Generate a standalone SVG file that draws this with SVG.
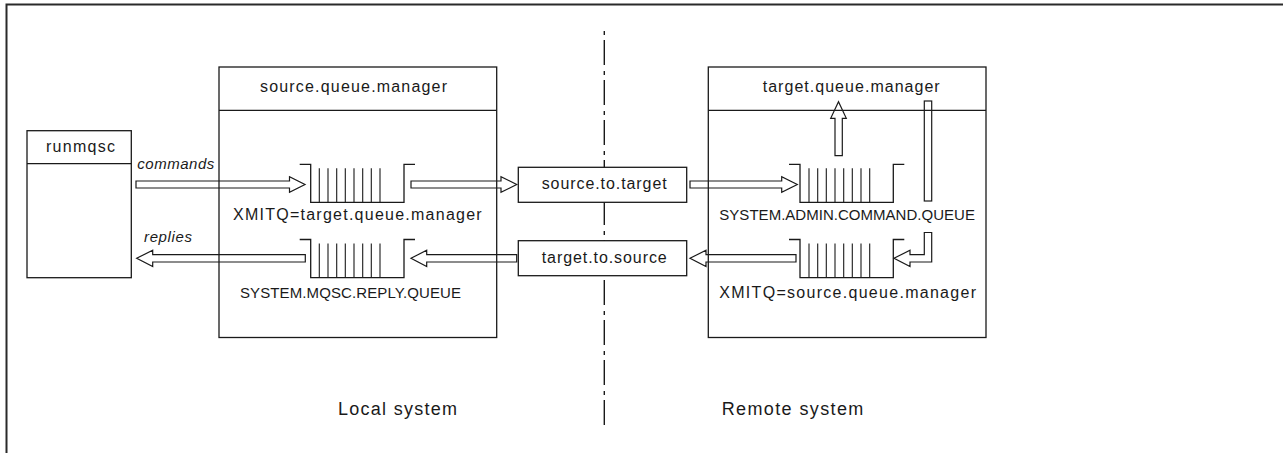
<svg xmlns="http://www.w3.org/2000/svg" width="1283" height="453" viewBox="0 0 1283 453">
<style>
.frame{fill:none;stroke:#2a2a2a;stroke-width:2}
.box{fill:#fff;stroke:#1a1a1a;stroke-width:1.3}
.ln{fill:none;stroke:#1a1a1a;stroke-width:1.3}
.bar{fill:none;stroke:#1a1a1a;stroke-width:1.1}
.arr{fill:none;stroke:#1a1a1a;stroke-width:1.2;stroke-linejoin:miter}
.dd{fill:none;stroke:#1a1a1a;stroke-width:1.4;stroke-dasharray:4 5 25 6}
text{font-family:"Liberation Sans",Arial,sans-serif;font-size:16px;fill:#1a1a1a}
.uc{font-size:15px}
.it{font-style:italic;font-size:15px}
.big{font-size:18px}
</style>
<path class="frame" d="M6.5,453 V4.5 H1283"/>
<line class="dd" x1="604.3" y1="31" x2="604.3" y2="425"/>
<g id="runmqsc">
<rect class="box" x="27" y="130.7" width="104.3" height="147"/>
<line class="ln" x1="27" y1="163.7" x2="131.3" y2="163.7"/>
<text x="46" y="152" textLength="69" lengthAdjust="spacing">runmqsc</text>
</g>
<g id="source-qm">
<rect class="box" x="219" y="67" width="277.7" height="270.5"/>
<line class="ln" x1="219" y1="110.3" x2="496.7" y2="110.3"/>
<text x="260" y="92.3" textLength="187" lengthAdjust="spacing">source.queue.manager</text>
</g>
<g id="target-qm">
<rect class="box" x="708.3" y="67" width="277.7" height="270.5"/>
<line class="ln" x1="708.3" y1="110.3" x2="986" y2="110.3"/>
<text x="762.7" y="91.7" textLength="177" lengthAdjust="spacing">target.queue.manager</text>
</g>
<g id="xmitq-target">
<path class="ln" d="M299.7,164.3 H310.7 V202.3 H404 V164.3 H415"/>
<path class="bar" d="M319.3,168.3V202.3M328,168.3V202.3M336.7,168.3V202.3M345.3,168.3V202.3M354,168.3V202.3M362.7,168.3V202.3M371.3,168.3V202.3M380,168.3V202.3"/>
<text x="233" y="220" textLength="248.7" lengthAdjust="spacing">XMITQ=target.queue.manager</text>
</g>
<g id="reply-queue">
<path class="ln" d="M299.7,239.5 H310.7 V277.7 H404 V239.5 H415"/>
<path class="bar" d="M319.3,243.5V277.7M328,243.5V277.7M336.7,243.5V277.7M345.3,243.5V277.7M354,243.5V277.7M362.7,243.5V277.7M371.3,243.5V277.7M380,243.5V277.7"/>
<text class="uc" x="240" y="297.5" textLength="221" lengthAdjust="spacing">SYSTEM.MQSC.REPLY.QUEUE</text>
</g>
<g id="command-queue">
<path class="ln" d="M789,164.3 H800 V202.3 H893.3 V164.3 H904.3"/>
<path class="bar" d="M809,168.3V202.3M817.7,168.3V202.3M826.3,168.3V202.3M835,168.3V202.3M843.7,168.3V202.3M852.3,168.3V202.3M861,168.3V202.3M869.7,168.3V202.3"/>
<text class="uc" x="719.3" y="220" textLength="255.7" lengthAdjust="spacing">SYSTEM.ADMIN.COMMAND.QUEUE</text>
</g>
<g id="xmitq-source">
<path class="ln" d="M789,239.5 H800 V277.7 H893.3 V239.5 H904.3"/>
<path class="bar" d="M809,243.5V277.7M817.7,243.5V277.7M826.3,243.5V277.7M835,243.5V277.7M843.7,243.5V277.7M852.3,243.5V277.7M861,243.5V277.7M869.7,243.5V277.7"/>
<text x="719.3" y="297.5" textLength="256.7" lengthAdjust="spacing">XMITQ=source.queue.manager</text>
</g>
<g id="source-to-target">
<rect class="box" x="518.3" y="167.3" width="168.4" height="35"/>
<text x="541.7" y="189.3" textLength="125" lengthAdjust="spacing">source.to.target</text>
</g>
<g id="target-to-source">
<rect class="box" x="518.3" y="240.7" width="168.4" height="35"/>
<text x="541.7" y="262.7" textLength="125" lengthAdjust="spacing">target.to.source</text>
</g>
<g id="connectors">
<path class="arr" d="M136,181 H289.5 V176.7 L305,184.5 L289.5,192.3 V188 H136 Z"/>
<path class="arr" d="M411,181 H501 V176.7 L516.7,184.5 L501,192.3 V188 H411 Z"/>
<path class="arr" d="M690,181 H781.7 V176.7 L797.3,184.5 L781.7,192.3 V188 H690 Z"/>
<path class="arr" d="M305.3,254.6 H152.7 V250.2 L136.7,258.3 L152.7,266.5 V262 H305.3 Z"/>
<path class="arr" d="M516.7,254.6 H426.7 V250.2 L411,258.3 L426.7,266.5 V262 H516.7 Z"/>
<path class="arr" d="M796,254.6 H706 V250.2 L690,258.3 L706,266.5 V262 H796 Z"/>
<path class="arr" d="M835,155.7 V118.3 H830.7 L838.5,101.7 L846.3,118.3 H842.3 V155.7 Z"/>
<rect class="arr" x="924.3" y="101" width="7.4" height="100"/>
<path class="arr" d="M924.3,232.5 H931.7 V262 H910 V266.5 L894,258.3 L910,250.2 V254.6 H924.3 Z"/>
<text class="it" x="137.3" y="168.5" textLength="77" lengthAdjust="spacing">commands</text>
<text class="it" x="144" y="242.3" textLength="48" lengthAdjust="spacing">replies</text>
</g>
<text class="big" x="338" y="415" textLength="119" lengthAdjust="spacing">Local system</text>
<text class="big" x="721.7" y="415" textLength="141.6" lengthAdjust="spacing">Remote system</text>
</svg>
